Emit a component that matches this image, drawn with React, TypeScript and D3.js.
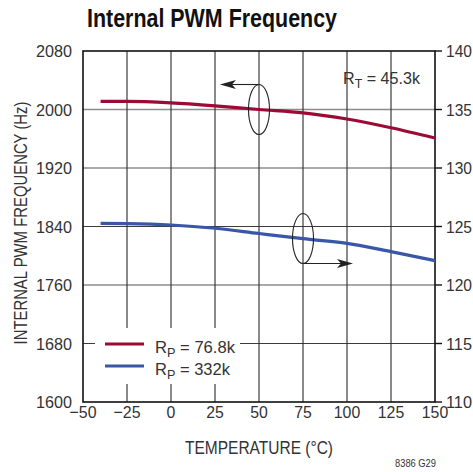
import React from 'react';
import * as d3 from 'd3';

// temperature (°C) at which the curves were read
const temps = [-40, -25, 0, 25, 50, 75, 100, 125, 150];
// RP = 76.8k, read against the left axis (Hz)
const freqRp768 = [2011, 2011, 2009, 2005, 2000, 1995.5, 1987, 1975, 1961];
// RP = 332k, read against the right axis
const freqRp332 = [125.27, 125.25, 125.13, 124.85, 124.4, 123.96, 123.56, 122.85, 122.08];

const xTicks = [-50, -25, 0, 25, 50, 75, 100, 125, 150];
const leftTicks = [1600, 1680, 1760, 1840, 1920, 2000, 2080];
const rightTicks = [110, 115, 120, 125, 130, 135, 140];
const greyRows = [1760, 1920, 2000];

const legendLabels = ['76.8k', '332k'];
const colours = ['#9b0b36', '#3a56a6'];

const W = 473;
const H = 472;
const margin = { top: 51, right: 38, bottom: 70, left: 83 };
const font = '"Liberation Sans", Arial, sans-serif';

export default function App() {
    const x = d3.scaleLinear().domain([-50, 150]).range([margin.left, W - margin.right]);
    const yL = d3.scaleLinear().domain([1600, 2080]).range([H - margin.bottom, margin.top]);
    const yR = d3.scaleLinear().domain([110, 140]).range([H - margin.bottom, margin.top]);

    const x0 = x(-50), x1 = x(150), y0 = yL(1600), y1 = yL(2080);

    const redLine = d3.line<number>()
        .x((d, i) => x(temps[i]))
        .y(d => yL(d))
        .curve(d3.curveMonotoneX);
    const blueLine = d3.line<number>()
        .x((d, i) => x(temps[i]))
        .y(d => yR(d))
        .curve(d3.curveMonotoneX);

    // annotation ellipses: one on each curve, arrow pointing at its axis
    const eRed = { cx: x(50), cy: yL(2000), tip: x(27.8) };
    const eBlue = { cx: x(75), cy: yR(123.97), tip: x(103.4) };
    const rx = 10.5, ry = 25;

    const arrowHead = (tx: number, ty: number, dir: number) =>
        `M${tx},${ty} L${tx - dir * 16},${ty - 4.5} L${tx - dir * 12},${ty} L${tx - dir * 16},${ty + 4.5} Z`;

    return (
        <svg width={W} height={H} style={{ position: 'absolute', left: 0, top: 0 }} fontFamily={font}>
            <rect width={W} height={H} fill="#fff" />

            <text x={87} y={27} fontSize={25} fontWeight="bold" fill="#111" textLength={250} lengthAdjust="spacingAndGlyphs">
                Internal PWM Frequency
            </text>

            {/* horizontal grid */}
            {leftTicks.slice(1, -1).map(t => (
                <line key={'h' + t} x1={x0} x2={x1} y1={yL(t)} y2={yL(t)}
                    stroke={greyRows.includes(t) ? '#8c8c8c' : '#3c3c3c'}
                    strokeWidth={greyRows.includes(t) ? 1.6 : 1.1} />
            ))}
            {/* vertical grid */}
            {xTicks.slice(1, -1).map(t => (
                <line key={'v' + t} x1={x(t)} x2={x(t)} y1={y1} y2={y0} stroke="#2a2a2a" strokeWidth={1.1} />
            ))}

            {/* legend backdrop hides grid */}
            <rect x={95} y={328} width={145} height={56} fill="#fff" />

            <rect x={x0} y={y1} width={x1 - x0} height={y0 - y1} fill="none" stroke="#111" strokeWidth={1.6} />

            {/* right axis ticks */}
            {rightTicks.map(t => (
                <line key={'rt' + t} x1={x1} x2={x1 + 7} y1={yR(t)} y2={yR(t)} stroke="#111" strokeWidth={1.4} />
            ))}

            <path d={redLine(freqRp768) || ''} fill="none" stroke={colours[0]} strokeWidth={3.2} />
            <path d={blueLine(freqRp332) || ''} fill="none" stroke={colours[1]} strokeWidth={3.2} />

            {/* annotations */}
            <g stroke="#222" strokeWidth={1.1} fill="none">
                <ellipse cx={eRed.cx} cy={eRed.cy} rx={rx} ry={ry} />
                <line x1={eRed.cx} x2={eRed.tip + 10} y1={eRed.cy - ry} y2={eRed.cy - ry} />
                <ellipse cx={eBlue.cx} cy={eBlue.cy} rx={rx} ry={ry} />
                <line x1={eBlue.cx} x2={eBlue.tip - 10} y1={eBlue.cy + ry} y2={eBlue.cy + ry} />
            </g>
            <path d={arrowHead(eRed.tip, eRed.cy - ry, -1)} fill="#222" />
            <path d={arrowHead(eBlue.tip, eBlue.cy + ry, 1)} fill="#222" />

            <text x={343} y={84} fontSize={17} fill="#333" textLength={77} lengthAdjust="spacingAndGlyphs">
                R<tspan fontSize={13} dy={4}>T</tspan><tspan dy={-4}> = 45.3k</tspan>
            </text>

            {/* legend */}
            {legendLabels.map((lab, i) => (
                <g key={lab}>
                    <line x1={105} x2={144} y1={344 + i * 22} y2={344 + i * 22} stroke={colours[i]} strokeWidth={3.2} />
                    <text x={155} y={353 + i * 22} fontSize={17} fill="#333"
                        textLength={i === 0 ? 80 : 75} lengthAdjust="spacingAndGlyphs">
                        R<tspan fontSize={13} dy={4}>P</tspan><tspan dy={-4}> = {lab}</tspan>
                    </text>
                </g>
            ))}

            {/* left tick labels */}
            {leftTicks.map(t => (
                <text key={'lt' + t} x={72} y={yL(t)} dy="0.36em" textAnchor="end" fontSize={17} fill="#333"
                    textLength={36} lengthAdjust="spacingAndGlyphs">{t}</text>
            ))}
            {/* right tick labels */}
            {rightTicks.map(t => (
                <text key={'rl' + t} x={446} y={yR(t)} dy="0.36em" fontSize={17} fill="#333"
                    textLength={26} lengthAdjust="spacingAndGlyphs">{t}</text>
            ))}
            {/* x tick labels */}
            {xTicks.map(t => (
                <text key={'xl' + t} x={x(t)} y={418} textAnchor="middle" fontSize={17} fill="#333"
                    textLength={t < 0 ? 27 : String(t).length * 8.8} lengthAdjust="spacingAndGlyphs">
                    {t < 0 ? '\u2212' + Math.abs(t) : t}
                </text>
            ))}

            <text x={259} y={454} textAnchor="middle" fontSize={18} fill="#333" textLength={148} lengthAdjust="spacingAndGlyphs">
                TEMPERATURE (°C)
            </text>
            <text transform="translate(27,223) rotate(-90)" textAnchor="middle" fontSize={18} fill="#333"
                textLength={243} lengthAdjust="spacingAndGlyphs">
                INTERNAL PWM FREQUENCY (Hz)
            </text>
            <text x={436} y={467} textAnchor="end" fontSize={11} fill="#333" textLength={41} lengthAdjust="spacingAndGlyphs">
                8386 G29
            </text>
        </svg>
    );
}
